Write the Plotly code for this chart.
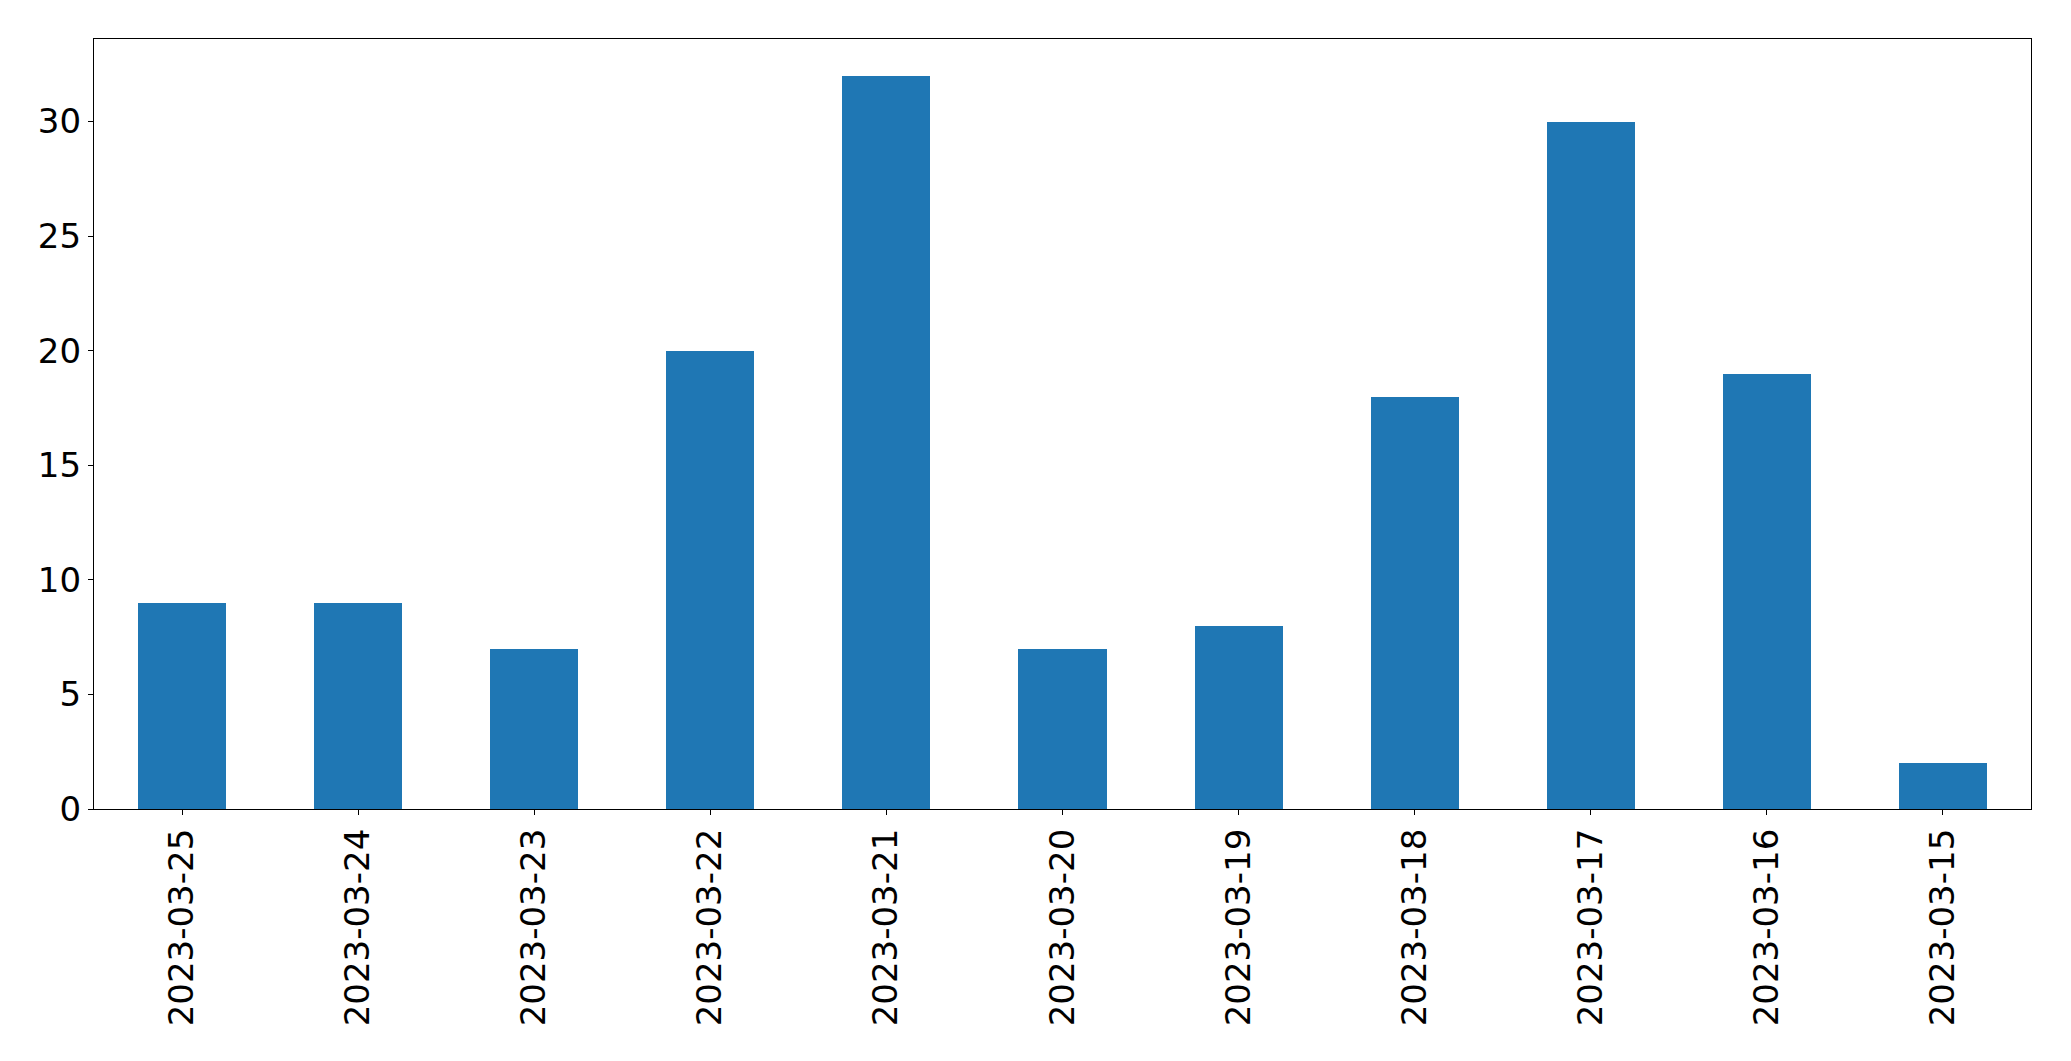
import plotly.graph_objects as go

dates = ["2023-03-25", "2023-03-24", "2023-03-23", "2023-03-22", "2023-03-21",
         "2023-03-20", "2023-03-19", "2023-03-18", "2023-03-17", "2023-03-16",
         "2023-03-15"]
counts = [9, 9, 7, 20, 32, 7, 8, 18, 30, 19, 2]
y_ticks = [0, 5, 10, 15, 20, 25, 30]

fig = go.Figure(go.Bar(x=dates, y=counts, width=0.5, marker=dict(color="#1f77b4", line=dict(width=0))))

fig.update_layout(
    width=2055, height=1045,
    margin=dict(l=86, r=32, t=31, b=244),
    plot_bgcolor="white", paper_bgcolor="white",
    font=dict(family="DejaVu Sans", size=34, color="black"),
    showlegend=False,
    bargap=0,
)
fig.update_xaxes(
    type="category", range=[-0.5, len(dates) - 0.5],
    showline=True, linecolor="black", linewidth=1.3, mirror=True,
    ticks="outside", ticklen=5, tickwidth=1.3, tickcolor="black",
    tickangle=-90, showgrid=False, zeroline=False,
    tickfont=dict(size=34),
)
fig.update_yaxes(
    range=[0, max(counts) * 1.05], tickvals=y_ticks,
    showline=True, linecolor="black", linewidth=1.3, mirror=True,
    ticks="outside", ticklen=5, tickwidth=1.3, tickcolor="black",
    showgrid=False, zeroline=False,
    tickfont=dict(size=34),
)

fig.write_html("out.html")
